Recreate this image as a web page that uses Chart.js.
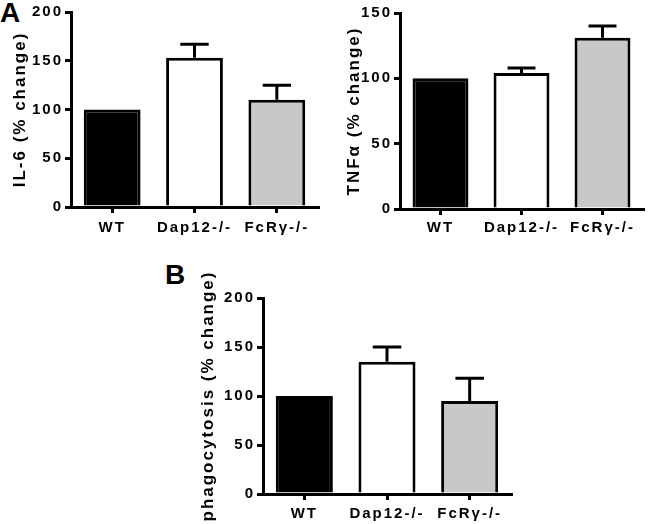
<!DOCTYPE html>
<html>
<head>
<meta charset="utf-8">
<script src="https://cdn.jsdelivr.net/npm/chart.js@4.4.0/dist/chart.umd.min.js"></script>
<style>
  body { margin: 0; background: #fff; width: 650px; height: 524px; position: relative; overflow: hidden; }
  canvas { position: absolute; }
  .lbl { position: absolute; font: bold 28px "Liberation Sans", Arial, sans-serif; line-height: 1; color: #000; }
</style>
</head>
<body>
<div class="lbl" style="left:0px; top:-1px;">A</div>
<div class="lbl" style="left:165px; top:261px;">B</div>
<canvas id="c1" width="330" height="245" style="left:0px; top:0px;"></canvas>
<canvas id="c2" width="325" height="245" style="left:325px; top:0px;"></canvas>
<canvas id="c3" width="340" height="274" style="left:180px; top:250px;"></canvas>
<script>
'use strict';

const categories = ['WT', 'Dap12-/-', 'FcRγ-/-'];
const barColors = ['#000000', '#ffffff', '#c8c8c8'];

const il6Values = [100, 153, 110];
const il6Err = [0, 14, 15];

const tnfValues = [100, 104, 131];
const tnfErr = [0, 4, 9];

const phagoValues = [100, 135, 95];
const phagoErr = [0, 15, 23];

const font = '"Liberation Sans", Arial, sans-serif';

// letter spacing like the original figure + upper error bars
const spacingPlugin = {
    id: 'spacing',
    beforeUpdate(chart) { chart.ctx.letterSpacing = '2px'; },
    beforeDraw(chart) { chart.ctx.letterSpacing = '2px'; }
};

const errorBars = {
    id: 'errorBars',
    afterDatasetsDraw(chart) {
        const ctx = chart.ctx;
        const meta = chart.getDatasetMeta(0);
        const y = chart.scales.y;
        const errs = chart.data.datasets[0].errors;
        const vals = chart.data.datasets[0].data;
        ctx.save();
        ctx.strokeStyle = '#000';
        ctx.lineWidth = 3;
        meta.data.forEach(function (bar, i) {
            if (!errs[i]) return;
            const top = y.getPixelForValue(vals[i] + errs[i]);
            const base = y.getPixelForValue(vals[i]);
            const half = bar.width / 4;
            ctx.beginPath();
            ctx.moveTo(bar.x, base);
            ctx.lineTo(bar.x, top);
            ctx.moveTo(bar.x - half, top);
            ctx.lineTo(bar.x + half, top);
            ctx.stroke();
        });
        ctx.restore();
    }
};

function makeChart(id, values, errors, yMax, title, o) {
    return new Chart(document.getElementById(id), {
        type: 'bar',
        data: {
            labels: categories,
            datasets: [{
                data: values,
                errors: errors,
                backgroundColor: barColors,
                borderColor: '#000',
                borderWidth: 3,
                barPercentage: 0.69,
                categoryPercentage: 1
            }]
        },
        options: {
            responsive: false,
            animation: false,
            devicePixelRatio: 1,
            layout: { padding: { top: o.top, right: o.right, left: 0, bottom: 0 } },
            plugins: { legend: { display: false }, tooltip: { enabled: false } },
            scales: {
                x: {
                    afterFit(scale) { scale.height = o.xh; },
                    grid: { drawOnChartArea: false, offset: false, color: '#000', lineWidth: 3, tickLength: 6 },
                    border: { color: '#000', width: 3 },
                    ticks: {
                        color: '#000', padding: o.xpad, maxRotation: 0, minRotation: 0, autoSkip: false,
                        font: { family: font, size: 15, weight: 'bold' }
                    }
                },
                y: {
                    min: 0,
                    max: yMax,
                    afterFit(scale) { scale.width = o.yw; },
                    grid: { drawOnChartArea: false, color: '#000', lineWidth: 3, tickLength: 6 },
                    border: { color: '#000', width: 3 },
                    ticks: { stepSize: 50, color: '#000', padding: 2, font: { family: font, size: 15, weight: 'bold' } },
                    title: {
                        display: true,
                        text: title,
                        color: '#000',
                        padding: { top: o.tpad, bottom: 0 },
                        font: { family: font, size: 17, weight: 'bold' }
                    }
                }
            }
        },
        plugins: [spacingPlugin, errorBars]
    });
}

makeChart('c1', il6Values, il6Err, 200, 'IL-6 (% change)',
    { top: 12, right: 12, xh: 38, yw: 71, xpad: 6, tpad: 10 });
makeChart('c2', tnfValues, tnfErr, 150, 'TNFα (% change)',
    { top: 13, right: 7, xh: 36, yw: 75, xpad: 4, tpad: 19 });
makeChart('c3', phagoValues, phagoErr, 200, 'phagocytosis (% change)',
    { top: 48, right: 9, xh: 30, yw: 83, xpad: 5, tpad: 18 });
</script>
</body>
</html>
